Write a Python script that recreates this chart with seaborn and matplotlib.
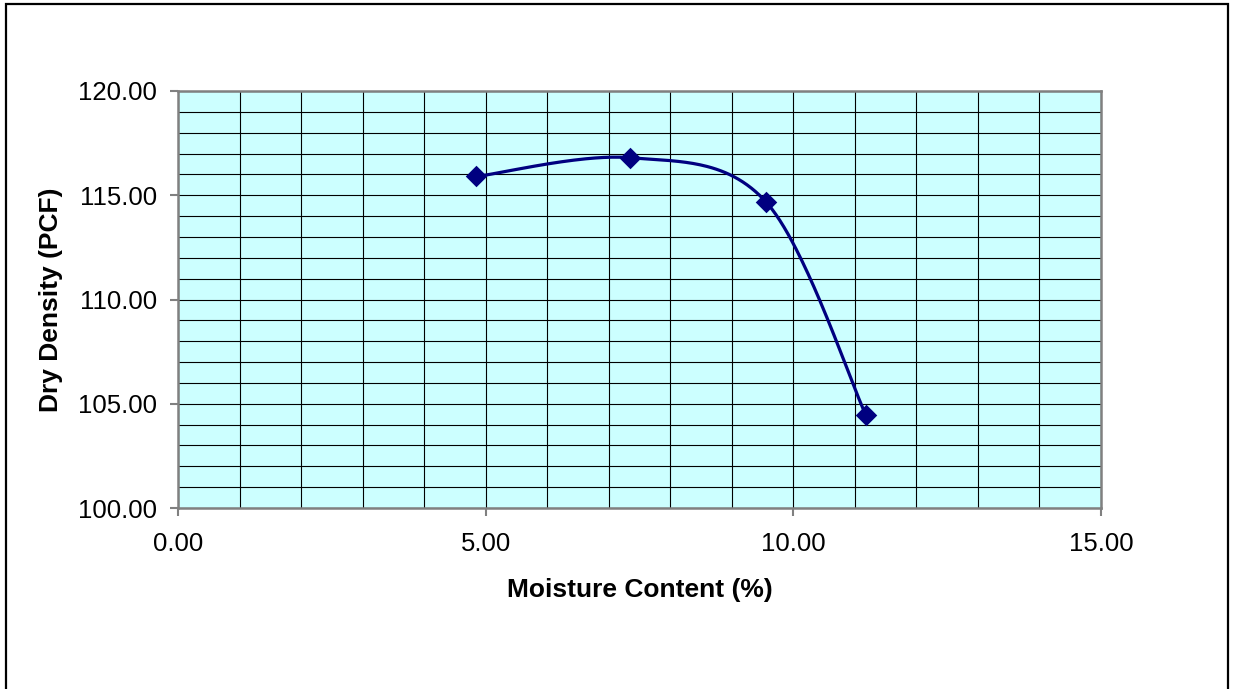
import numpy as np
import matplotlib
matplotlib.use("Agg")
import matplotlib.pyplot as plt
import seaborn as sns
from matplotlib.patches import Rectangle

# Data
moisture = [4.85, 7.35, 9.55, 11.18]
density = [115.9, 116.8, 114.7, 104.45]
x_ticks = [0, 5, 10, 15]
y_ticks = [100, 105, 110, 115, 120]
x_label = "Moisture Content (%)"
y_label = "Dry Density (PCF)"

sns.set_style("white")
plt.rcParams['font.family'] = ['Liberation Sans', 'DejaVu Sans']
plt.rcParams['text.color'] = 'black'
plt.rcParams['axes.labelcolor'] = 'black'
plt.rcParams['xtick.labelcolor'] = 'black'
plt.rcParams['ytick.labelcolor'] = 'black'

fig = plt.figure(figsize=(12.33, 6.89), dpi=100)
ax = fig.add_axes([178/1233, 1-508/689, (1101-178)/1233, (508-91)/689])
ax.set_facecolor("#CCFFFF")

# Excel-style smoothed line (Bezier with 1/6 tangents)
def smooth(xs, ys, n=60):
    P = np.column_stack([xs, ys]).astype(float)
    ext = np.vstack([P[0], P, P[-1]])
    out = []
    t = np.linspace(0, 1, n)[:, None]
    for i in range(len(P) - 1):
        p0, p1, p2, p3 = ext[i], ext[i+1], ext[i+2], ext[i+3]
        c1 = p1 + (p2 - p0) / 6
        c2 = p2 - (p3 - p1) / 6
        seg = ((1-t)**3)*p1 + 3*((1-t)**2)*t*c1 + 3*(1-t)*t**2*c2 + t**3*p2
        out.append(seg if i == 0 else seg[1:])
    return np.vstack(out)

curve = smooth(moisture, density)
sns.lineplot(x=curve[:, 0], y=curve[:, 1], sort=False, ax=ax, color="#000080",
             linewidth=2.3, estimator=None, zorder=3)
sns.scatterplot(x=moisture, y=density, ax=ax, marker="D", s=120, color="#000080",
                edgecolor="#000080", linewidth=0, zorder=4)

ax.set_xlim(0, 15)
ax.set_ylim(100, 120)
ax.set_xticks(x_ticks)
ax.set_yticks(y_ticks)
ax.set_xticklabels([f"{v:.2f}" for v in x_ticks], fontsize=18.5)
ax.set_yticklabels([f"{v:.2f}" for v in y_ticks], fontsize=18.5)
ax.set_xticks(np.arange(0, 16, 1), minor=True)
ax.set_yticks(np.arange(100, 121, 1), minor=True)
ax.grid(True, which="both", color="#000000", linewidth=0.8)
ax.set_axisbelow(True)
ax.tick_params(which="major", direction="out", length=6, width=1.5, color="#808080",
               left=True, bottom=True)
ax.tick_params(axis="x", pad=11)
ax.tick_params(axis="y", pad=9)
ax.tick_params(which="minor", length=0)
for s in ax.spines.values():
    s.set_color("#808080")
    s.set_linewidth(1.8)

ax.set_xlabel(x_label, fontsize=19, fontweight="bold", labelpad=16)
ax.set_ylabel(y_label, fontsize=19, fontweight="bold", labelpad=11)

fig.patches.append(Rectangle((6/1233, -0.02), (1228-6)/1233, 1.02 - 3.5/689,
                             transform=fig.transFigure, fill=False,
                             edgecolor="black", linewidth=1.6))

fig.savefig("out.png", dpi=100)
